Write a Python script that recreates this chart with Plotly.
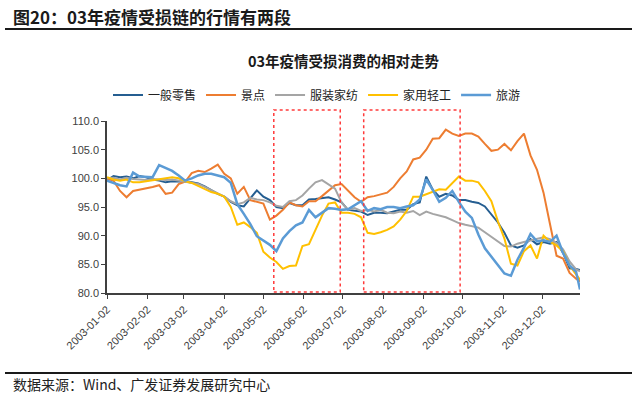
import plotly.graph_objects as go

dates = ["2003-01-02","2003-01-07","2003-01-12","2003-01-17","2003-01-22","2003-01-27","2003-02-01","2003-02-06","2003-02-11","2003-02-16","2003-02-21","2003-02-26","2003-03-03","2003-03-08","2003-03-13","2003-03-18","2003-03-23","2003-03-28","2003-04-02","2003-04-07","2003-04-12","2003-04-17","2003-04-22","2003-04-27","2003-05-02","2003-05-07","2003-05-12","2003-05-17","2003-05-22","2003-05-27","2003-06-01","2003-06-06","2003-06-11","2003-06-16","2003-06-21","2003-06-26","2003-07-01","2003-07-06","2003-07-11","2003-07-16","2003-07-21","2003-07-26","2003-07-31","2003-08-05","2003-08-10","2003-08-15","2003-08-20","2003-08-25","2003-08-30","2003-09-04","2003-09-09","2003-09-14","2003-09-19","2003-09-24","2003-09-29","2003-10-04","2003-10-09","2003-10-14","2003-10-19","2003-10-24","2003-10-29","2003-11-03","2003-11-08","2003-11-13","2003-11-18","2003-11-23","2003-11-28","2003-12-03","2003-12-08","2003-12-13","2003-12-18","2003-12-23","2003-12-28","2003-12-31"]

retail = [99.7,100.4,100.2,100.3,100.0,100.4,100.2,99.8,99.6,99.3,99.5,99.5,99.4,99.3,99.1,98.6,97.9,97.3,96.8,95.9,95.3,95.1,96.5,97.9,96.8,96.2,95.0,94.8,95.7,95.3,95.3,96.3,96.4,96.6,96.7,96.3,95.8,94.5,94.4,94.2,93.6,94.0,94.0,93.9,94.2,94.5,94.5,95.5,95.8,100.3,98.0,96.8,97.3,97.0,96.2,96.2,95.9,95.7,95.1,93.7,92.3,90.5,88.3,87.9,88.3,89.4,88.5,88.9,88.6,88.9,87.0,84.3,84.2,84.0]

scenic = [99.9,99.6,97.8,96.7,97.8,98.0,98.2,98.5,98.8,97.3,97.5,99.0,99.4,100.9,101.3,101.1,101.7,102.4,100.8,100.0,97.3,98.5,96.2,95.9,95.6,92.8,93.5,94.5,95.8,95.3,95.1,96.0,96.0,96.9,97.8,98.8,99.0,97.8,96.7,95.9,96.7,96.9,97.2,97.5,98.5,100.0,101.2,103.3,103.6,105.0,106.9,107.0,108.5,107.8,107.4,107.8,107.8,107.3,106.0,104.8,105.0,106.0,104.9,106.5,107.8,104.0,101.5,97.5,92.0,86.5,86.0,83.5,82.5,82.0]

apparel = [100.0,100.1,99.8,100.1,99.9,99.8,99.7,99.9,99.8,99.7,99.8,99.6,99.5,99.3,99.0,98.5,97.9,97.4,96.8,96.0,95.5,95.8,96.6,96.3,96.2,95.8,95.2,95.0,96.0,96.2,97.0,98.2,99.3,99.7,99.0,98.2,95.8,94.5,94.8,94.3,94.5,94.2,94.5,94.0,93.9,94.2,94.0,94.3,93.6,94.2,93.8,93.5,93.2,92.7,92.2,91.9,91.7,91.4,90.6,89.8,88.9,88.2,88.1,88.6,88.9,89.2,89.5,89.7,89.4,88.7,87.6,85.5,84.1,83.8]

household = [100.2,99.8,99.6,99.8,99.3,99.3,99.5,99.7,99.9,100.0,100.2,100.0,99.5,99.2,98.7,98.2,97.6,97.3,96.8,95.0,91.9,92.3,91.5,90.5,87.2,86.2,85.4,84.2,84.7,84.8,88.2,88.5,91.0,93.5,95.6,95.8,94.0,94.0,93.8,93.2,90.5,90.3,90.6,91.0,91.6,92.8,94.3,96.8,96.8,97.2,97.6,98.1,98.0,99.2,100.3,99.6,99.6,99.3,97.8,96.0,92.5,89.5,85.1,84.8,87.3,88.3,86.0,90.0,88.9,88.3,87.3,84.8,83.2,82.3]

travel = [99.6,99.2,98.8,98.6,101.0,100.3,100.2,100.2,102.3,101.8,101.3,100.5,99.6,100.0,100.5,100.8,100.8,100.5,100.2,99.2,95.5,93.8,92.0,89.9,89.2,88.4,87.3,89.5,90.8,91.8,92.3,94.5,93.2,94.0,94.8,94.7,94.5,94.6,95.3,96.0,94.3,94.8,94.6,95.0,95.0,94.8,95.1,95.3,96.3,99.8,98.0,95.9,96.6,97.8,95.9,94.2,93.1,90.2,87.8,86.4,84.8,83.4,83.0,85.8,87.9,90.3,89.0,89.2,88.9,90.0,87.0,84.8,83.7,80.6]

series_names = ["一般零售", "景点", "服装家纺", "家用轻工", "旅游"]
series_values = [retail, scenic, apparel, household, travel]
series_colors = ["#255E91", "#ED7D31", "#A5A5A5", "#FFC000", "#5B9BD5"]
series_widths = [2, 2, 2, 2, 2.5]

tick_dates = ["2003-01-02","2003-02-02","2003-03-02","2003-04-02","2003-05-02","2003-06-02","2003-07-02","2003-08-02","2003-09-02","2003-10-02","2003-11-02","2003-12-02"]
y_ticks = [80, 85, 90, 95, 100, 105, 110]

boxes = [("2003-05-10", "2003-06-30"), ("2003-07-18", "2003-09-30")]

fig = go.Figure()
for name, vals, col, w in zip(series_names, series_values, series_colors, series_widths):
    fig.add_trace(go.Scatter(x=dates, y=vals, mode="lines", name=name,
                             line=dict(color=col, width=w)))

W, H = 637, 397
L, R, T, B = 107, 57, 121, 104
pw, ph = W - L - R, H - T - B

def px_x(px):
    return (px - L) / pw

def px_y(py):
    return (H - B - py) / ph

shapes = []
for x0, x1 in boxes:
    shapes.append(dict(type="rect", xref="x", yref="paper", x0=x0, x1=x1,
                       y0=px_y(292), y1=px_y(110),
                       line=dict(color="#FF3B3B", width=1.5, dash="dot")))

def rule(py, thick):
    # thin filled annotation box used as a horizontal separator rule
    return dict(text=" ", xref="paper", yref="paper", x=px_x(5), y=px_y(py),
                xanchor="left", yanchor="middle", showarrow=False,
                width=627, height=thick, bgcolor="#1a1a1a", borderpad=0, borderwidth=0,
                font=dict(size=1))

cjk = "Noto Sans CJK SC"
fig.update_layout(
    width=W, height=H,
    margin=dict(l=L, r=R, t=T, b=B, autoexpand=False),
    paper_bgcolor="white", plot_bgcolor="white",
    title=dict(text="<b>03年疫情受损消费的相对走势</b>", x=0.5, xref="paper", xanchor="center",
               y=1 - 62 / H, yanchor="middle", font=dict(family=cjk, size=14.5, color="#1a1a1a")),
    legend=dict(orientation="h", xref="container", yref="container", x=108 / W, y=1 - 95 / H,
                xanchor="left", yanchor="middle", font=dict(family=cjk, size=12, color="#222222"),
                bgcolor="rgba(0,0,0,0)"),
    shapes=shapes,
    annotations=[
        dict(text="<b>图20：03年疫情受损链的行情有两段</b>", xref="paper", yref="paper",
             x=px_x(11), y=px_y(16), xanchor="left", yanchor="middle", showarrow=False,
             font=dict(family=cjk, size=17, color="#1a1a1a")),
        dict(text="数据来源：Wind、广发证券发展研究中心", xref="paper", yref="paper",
             x=px_x(11), y=px_y(384), xanchor="left", yanchor="middle", showarrow=False,
             font=dict(family=cjk, size=14, color="#222222")),
        rule(29, 2),
        rule(372.5, 1.5),
    ],
    xaxis=dict(type="date", range=["2003-01-02", "2003-12-31"], tickvals=tick_dates,
               ticktext=tick_dates, tickangle=-45, showgrid=False, zeroline=False,
               showline=True, linecolor="#404040", linewidth=1.5, ticks="outside",
               ticklen=4, tickcolor="#404040", automargin=False,
               tickfont=dict(family="Liberation Sans, Arial", size=11, color="#404040")),
    yaxis=dict(range=[80, 110], tickvals=y_ticks, ticksuffix="%", tickformat=".1f",
               showgrid=False, zeroline=False, showline=True, linecolor="#404040",
               linewidth=1.5, ticks="outside", ticklen=4, tickcolor="#404040", automargin=False,
               tickfont=dict(family="Liberation Sans, Arial", size=11, color="#404040")),
)

fig.write_html("out.html", config={"displayModeBar": False},
               post_script="document.body.style.margin='0px';document.body.style.overflow='hidden';")
